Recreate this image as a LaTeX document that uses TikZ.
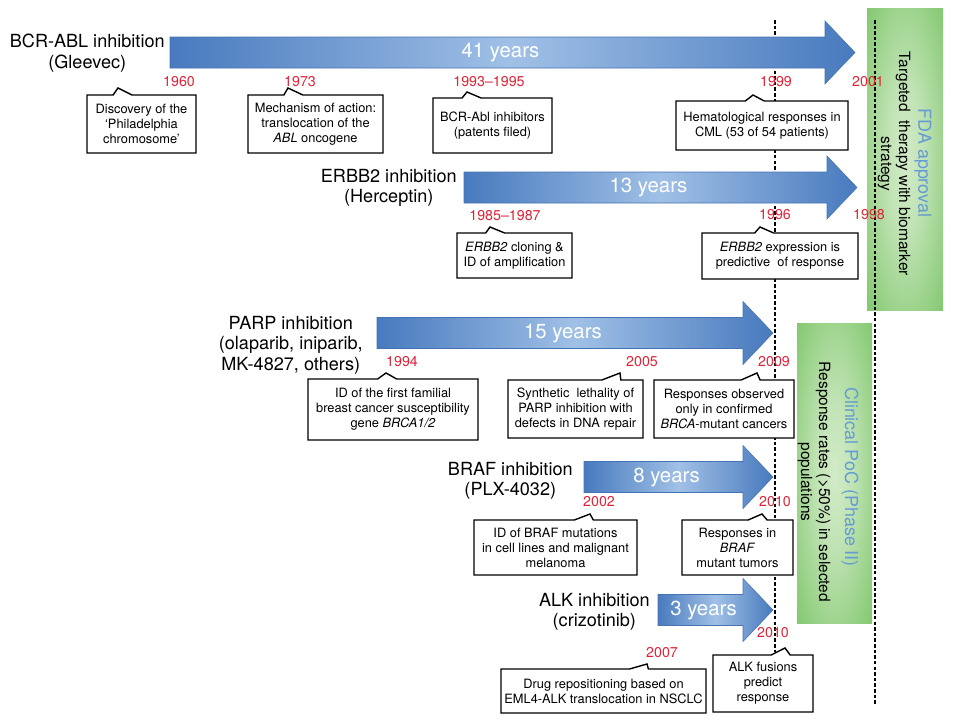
\documentclass[tikz,border=0pt]{standalone}
\usepackage{fontspec}
\setmainfont{TeX Gyre Heros}
\usetikzlibrary{shapes.callouts}

\definecolor{arrowdark}{RGB}{72,122,190}
\definecolor{arrowlight}{RGB}{160,192,230}
\definecolor{arrowedge}{RGB}{70,115,180}
\definecolor{greendark}{RGB}{124,197,104}
\definecolor{greenlight}{RGB}{210,235,200}
\definecolor{yearred}{RGB}{222,34,56}
\definecolor{titleblue}{RGB}{100,155,212}

\pgfdeclareradialshading{greenglow}{\pgfpoint{0bp}{0bp}}{color(0bp)=(greenlight); color(12bp)=(greenlight!80!greendark); color(38bp)=(greendark); color(50bp)=(greendark)}

\tikzset{
  timearrow/.style={draw=arrowedge, line width=0.3pt, left color=arrowdark, right color=arrowdark, middle color=arrowlight},
  spantext/.style={text=white, inner sep=0pt, font=\fontsize{11.6}{13}\selectfont},
  druglabel/.style={anchor=east, align=center, inner sep=0pt, font=\fontsize{10.3}{11.6}\selectfont},
  yearlabel/.style={text=yearred, inner sep=0pt, font=\fontsize{8.1}{9}\selectfont},
  callbox/.style={rectangle callout, draw, fill=white, line width=0.8pt, inner sep=0pt, align=center,
    callout pointer width=0.38cm, font=\fontsize{7.3}{8.5}\selectfont},
  greenbox/.style={shading=greenglow},
  greentitle/.style={rotate=-90, text=titleblue, inner sep=0pt, font=\fontsize{10.2}{12}\selectfont},
  greenbody/.style={rotate=-90, align=center, inner sep=0pt, font=\fontsize{8.8}{10.2}\selectfont},
  guide/.style={line width=0.8pt, dash pattern=on 2pt off 1.2pt},
}

% name, shaft start, head base, middle y, text
\newcommand{\spanarrow}[5]{%
  \draw[timearrow] ({#2},{#4-15.5}) -- ({#3},{#4-15.5}) -- ({#3},{#4-31.5}) -- ({#3+30},{#4})
    -- ({#3},{#4+31.5}) -- ({#3},{#4+15.5}) -- ({#2},{#4+15.5}) -- cycle;
  \node[spantext] (#1) at ({(#2+#3)/2+3},{#4}) {#5};
}
% name, x1, y1, x2, y2, pointer x, pointer y, text
\newcommand{\callbox}[8]{%
  \node[callbox, minimum width={(#4-#2)*0.02cm}, minimum height={(#5-#3)*0.02cm},
    callout absolute pointer={(#6,#7)}] (#1) at ({(#2+#4)/2},{(#3+#5)/2}) {#8};
}

\begin{document}
\begin{tikzpicture}[x=0.02cm, y=-0.02cm]
    \useasboundingbox (0,0) rectangle (960,720);

    % approval boxes
    \shade[greenbox] (867,8) rectangle (943,310);
    \shade[greenbox] (797,323) rectangle (872,623);
    \node[greentitle] (fda) at (923,163) {FDA approval};
    \node[greenbody] (fdatext) at (894,164) {Targeted~ therapy with biomarker\\strategy};
    \node[greentitle] (poc) at (850,477) {Clinical PoC (Phase II)};
    \node[greenbody] (poctext) at (814,482) {Response rates (>50\%) in selected\\populations};

    % dashed guides
    \coordinate (g1top) at (775,20);
    \coordinate (g1end) at (775,652);
    \coordinate (g2top) at (875,20);
    \coordinate (g2end) at (875,705);
    \draw[guide] (g1top) -- (g1end);
    \draw[guide] (g2top) -- (g2end);

    % time spans
    \spanarrow{bcrspan}{170}{825}{52.5}{41 years}
    \spanarrow{erbbspan}{464}{827}{187.5}{13 years}
    \spanarrow{parpspan}{377}{743}{333}{15 years}
    \spanarrow{brafspan}{584}{743}{477}{8 years}
    \spanarrow{alkspan}{658}{743}{610}{3 years}

    \node[druglabel] (bcrlabel) at (165,53) {BCR-ABL inhibition\\(Gleevec)};
    \node[druglabel] (erbblabel) at (457,188) {ERBB2 inhibition\\(Herceptin)};
    \node[druglabel] (parplabel) at (363,345) {PARP inhibition\\(olaparib, iniparib,\\MK-4827, others)};
    \node[druglabel] (braflabel) at (573,481) {BRAF inhibition\\(PLX-4032)};
    \node[druglabel] (alklabel) at (650,612) {ALK inhibition\\(crizotinib)};

    % years
    \node[yearlabel] (y1960) at (179,82) {1960};
    \node[yearlabel] (y1973) at (300,82) {1973};
    \node[yearlabel] (y1993) at (489,82) {1993--1995};
    \node[yearlabel] (y1999) at (776,82) {1999};
    \node[yearlabel] (y2001) at (868,82) {2001};
    \node[yearlabel] (y1985) at (505,216) {1985--1987};
    \node[yearlabel] (y1996) at (775,215) {1996};
    \node[yearlabel] (y1998) at (869,215) {1998};
    \node[yearlabel] (y1994) at (402,362) {1994};
    \node[yearlabel] (y2005) at (642,362) {2005};
    \node[yearlabel] (y2009) at (774,362) {2009};
    \node[yearlabel] (y2002) at (599,502) {2002};
    \node[yearlabel] (y2010a) at (775,502) {2010};
    \node[yearlabel] (y2010b) at (773,633) {2010};
    \node[yearlabel] (y2007) at (662,653) {2007};

    % milestones
    \callbox{philadelphia}{87}{95}{196}{153}{118}{88}{Discovery of the\\‘Philadelphia\\chromosome’}
    \callbox{mechanism}{248}{95}{383}{153}{288}{88}{Mechanism of action:\\translocation of the\\\textit{ABL} oncogene}
    \callbox{patents}{433}{98}{552}{153}{467}{92}{BCR-Abl inhibitors\\(patents filed)}
    \callbox{cml}{676}{101}{848}{150}{753}{95}{Hematological responses in\\CML (53 of 54 patients)}
    \callbox{cloning}{457}{233}{572}{278}{490}{227}{\textit{ERBB2} cloning \&\\ID of amplification}
    \callbox{expression}{702}{233}{858}{279}{760}{227}{\textit{ERBB2} expression is\\predictive~ of response}
    \callbox{brca}{308}{379}{478}{440}{386}{373}{ID of the first familial\\breast cancer susceptibility\\gene \textit{BRCA1/2}}
    \callbox{lethality}{508}{380}{643}{438}{620}{373}{Synthetic~ lethality of\\PARP inhibition with\\defects in DNA repair}
    \callbox{confirmed}{654}{380}{794}{438}{757}{373}{Responses observed\\only in confirmed\\\textit{BRCA}-mutant cancers}
    \callbox{melanoma}{474}{520}{637}{575}{590}{514}{ID of BRAF mutations\\in cell lines and malignant\\melanoma}
    \callbox{tumors}{682}{520}{793}{575}{762}{514}{Responses in\\\textit{BRAF}\\mutant tumors}
    \callbox{repositioning}{501}{669}{706}{713}{647}{664}{Drug repositioning based on\\EML4-ALK translocation in NSCLC}
    \callbox{fusions}{713}{655}{813}{712}{785}{648}{ALK fusions\\predict\\response}
\end{tikzpicture}
\end{document}
